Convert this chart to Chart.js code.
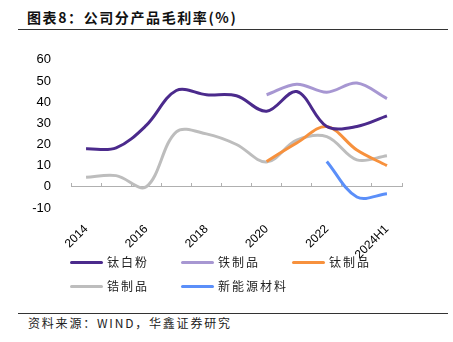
<!DOCTYPE html>
<html>
<head>
<meta charset="utf-8">
<script src="https://cdn.jsdelivr.net/npm/chart.js@4.4.0/dist/chart.umd.min.js"></script>
<style>
  body { margin: 0; width: 453px; height: 342px; background: #fff; position: relative; overflow: hidden; font-family: "Noto Sans CJK SC", sans-serif; }
  #title { position: absolute; left: 27px; top: 8px; font-size: 14px; font-weight: bold; color: #111; letter-spacing: 1.6px; line-height: 18px; }
  .rule { position: absolute; left: 18px; width: 430px; height: 0; border-top: 1.5px solid #333; }
  #box { position: absolute; left: 0; top: 40px; width: 453px; height: 240px; }
  .lg { position: absolute; font-size: 12px; color: #222; letter-spacing: 2px; line-height: 14px; }
  .lg i { position: absolute; left: -37px; top: 6px; width: 33px; height: 3px; border-radius: 2px; }
  #src { position: absolute; left: 28px; top: 314px; font-size: 12px; color: #222; letter-spacing: 1.8px; }
</style>
</head>
<body>
<div id="title">图表8：公司分产品毛利率(%)</div>
<div class="rule" style="top:29px"></div>
<div id="box"><canvas id="grafico"></canvas></div>
<div id="legenda"></div>
<div class="rule" style="top:313px"></div>
<div id="src">资料来源：WIND，华鑫证券研究</div>
<script>
// dados
const anos = ['2014', '2015', '2016', '2017', '2018', '2019', '2020', '2021', '2022', '2023', '2024H1'];
const taiBaiFen = [18, 18.4, 29, 45.5, 43.5, 43, 35.7, 45, 28.5, 28.5, 33.5];
const tieZhiPin = [null, null, null, null, null, null, 43.5, 48.5, 44.7, 49, 41.7];
const taiZhiPin = [null, null, null, null, null, null, 12, 20.7, 28.5, 17.4, 10];
const gaoZhiPin = [4.5, 5.3, 0, 26, 25, 20, 11.7, 22, 23.7, 12.7, 14.7];
const xinNengYuan = [null, null, null, null, null, null, null, null, 12, -4.8, -3.3];
const nomes = ['钛白粉', '铁制品', '钛制品', '锆制品', '新能源材料'];
const cores = ['#4b2a8c', '#a797d2', '#f7913d', '#bdbdbd', '#5b8ff9'];
const series = [taiBaiFen, tieZhiPin, taiZhiPin, gaoZhiPin, xinNengYuan];

// legenda em HTML
const posLegenda = [[107, 255], [218, 255], [329, 255], [107, 279], [218, 279]];
const legenda = document.getElementById('legenda');
nomes.forEach((nome, i) => {
    const d = document.createElement('div');
    d.className = 'lg';
    d.style.left = posLegenda[i][0] + 'px';
    d.style.top = posLegenda[i][1] + 'px';
    d.innerHTML = `<i style="background:${cores[i]}"></i>${nome}`;
    legenda.appendChild(d);
});

const datasets = series.map((dados, i) => ({
    label: nomes[i],
    data: dados,
    borderColor: cores[i],
    backgroundColor: cores[i],
    borderWidth: 3,
    pointRadius: 0,
    tension: 0.35,
    fill: false,
}));

const config = {
    type: 'line',
    data: { labels: anos, datasets: datasets },
    options: {
        responsive: true,
        maintainAspectRatio: false,
        animation: false,
        layout: { padding: { top: 13, right: 51, left: 0, bottom: 0 } },
        plugins: { legend: { display: false }, tooltip: { enabled: false } },
        scales: {
            x: {
                offset: true,
                grid: { display: false },
                border: { display: false },
                ticks: {
                    autoSkip: false,
                    maxRotation: 45,
                    minRotation: 45,
                    padding: 6,
                    color: '#000',
                    font: { family: 'Liberation Sans', size: 12 },
                    callback: function (val, idx) { return idx % 2 === 0 ? anos[idx] : ''; }
                },
                afterFit: function (scale) { scale.height = 72; }
            },
            x2: {
                type: 'category',
                position: { y: 0 },
                offset: true,
                ticks: { display: false },
                grid: { offset: true, drawOnChartArea: false, drawTicks: true, tickLength: -4, color: '#b0b0b0' },
                border: { display: true, color: '#b0b0b0', width: 1 }
            },
            y: {
                min: -10,
                max: 60,
                grid: { display: false },
                border: { display: false },
                ticks: {
                    stepSize: 10,
                    padding: 12,
                    color: '#000',
                    font: { family: 'Liberation Sans', size: 13 }
                },
                afterFit: function (scale) { scale.width = 71; }
            }
        }
    }
};

const ctx = document.getElementById('grafico').getContext('2d');
new Chart(ctx, config);
</script>
</body>
</html>
